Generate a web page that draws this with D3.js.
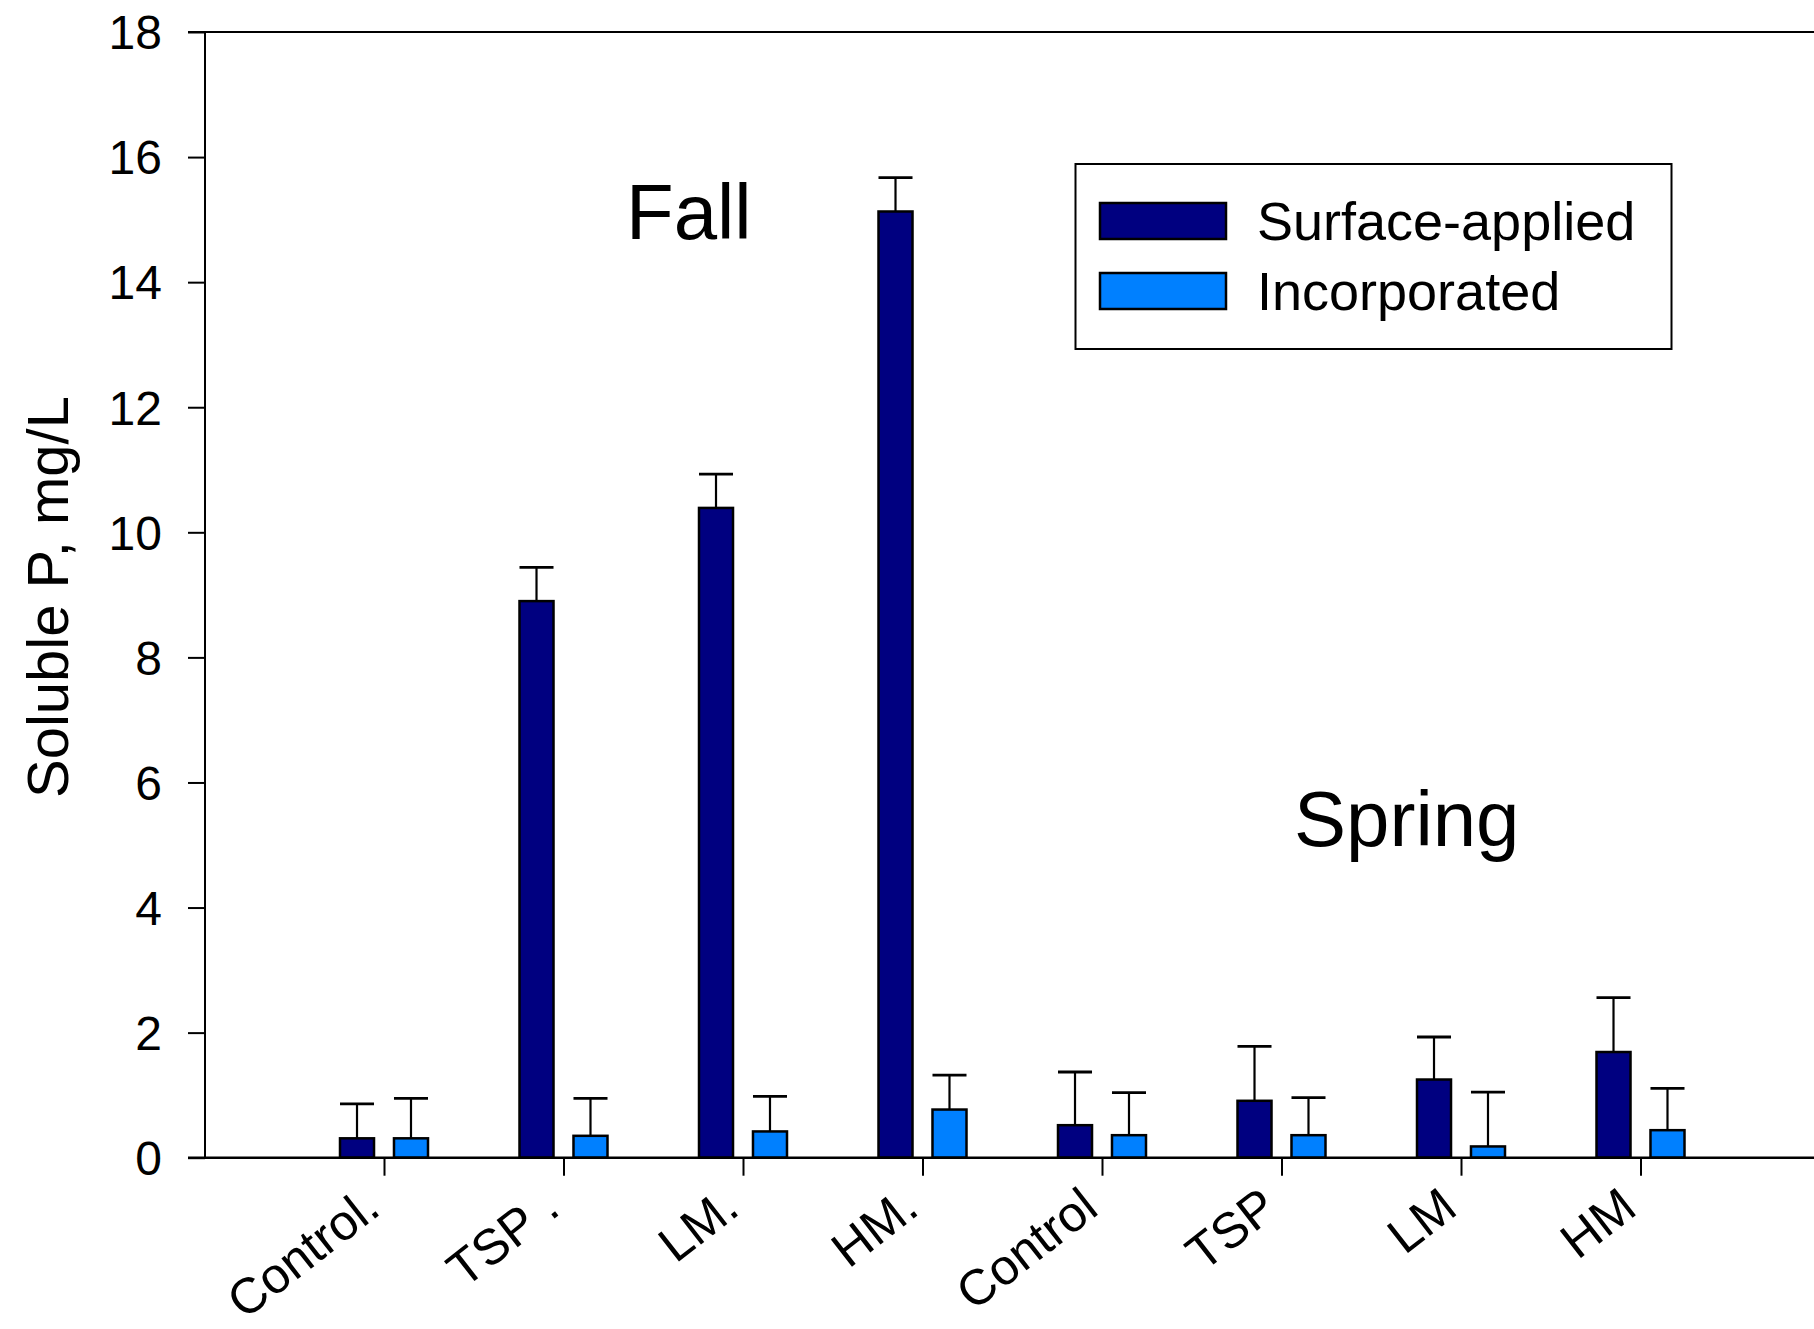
<!DOCTYPE html>
<html>
<head>
<meta charset="utf-8">
<script src="https://cdn.jsdelivr.net/npm/d3@7"></script>
<style>
  body { margin: 0; background: #fff; }
  svg { display: block; font-family: 'Liberation Sans', Arial, sans-serif; }
</style>
</head>
<body>
<div id="chart"></div>
<script>
const categories = ['Control.', 'TSP .', 'LM.', 'HM.', 'Control', 'TSP', 'LM', 'HM']
const series = ['Surface-applied', 'Incorporated']
const surface = [0.31, 8.9, 10.39, 15.13, 0.52, 0.91, 1.25, 1.69]
const surfaceErr = [0.55, 0.54, 0.54, 0.54, 0.85, 0.87, 0.68, 0.87]
const incorp = [0.31, 0.35, 0.42, 0.77, 0.36, 0.36, 0.18, 0.44]
const incorpErr = [0.64, 0.6, 0.56, 0.55, 0.68, 0.6, 0.87, 0.67]
const yTicks = [0, 2, 4, 6, 8, 10, 12, 14, 16, 18]
const seasons = [{ name: 'Fall', x: 626, y: 239 }, { name: 'Spring', x: 1294, y: 846 }]

const width = 1814
const height = 1329
const colors = ['#000080', '#0080ff']

const svg = d3
  .select('#chart')
  .append('svg')
  .attr('width', width)
  .attr('height', height)
  .attr('viewBox', [0, 0, width, height])

const y = d3.scaleLinear().domain([0, 18]).range([1157.7, 32])
const x = d3
  .scalePoint()
  .domain(d3.range(categories.length))
  .range([384, 384 + 7 * 179.5])
const xs = d3.scaleBand().domain([0, 1]).range([-44, 44]).paddingInner(0.37)

const rows = categories.map((c, i) => ({
  i,
  vals: [
    { s: 0, v: surface[i], e: surfaceErr[i] },
    { s: 1, v: incorp[i], e: incorpErr[i] },
  ],
}))

// frame lines
const x0 = 188
const axisX = 205
svg.append('line')
  .attr('x1', axisX).attr('x2', axisX)
  .attr('y1', y(18)).attr('y2', y(0))
  .attr('stroke', '#000').attr('stroke-width', 2)
svg.append('line')
  .attr('x1', x0).attr('x2', width)
  .attr('y1', y(18)).attr('y2', y(18))
  .attr('stroke', '#000').attr('stroke-width', 2)

// y axis
const yAxis = svg
  .append('g')
  .attr('transform', `translate(${axisX},0)`)
  .call(d3.axisLeft(y).tickValues(yTicks).tickSize(17).tickPadding(26))
yAxis.select('.domain').remove()
yAxis.selectAll('line').attr('stroke-width', 2)
yAxis.selectAll('text')
  .attr('font-size', 48)
  .attr('font-family', "'Liberation Sans', Arial, sans-serif")
  .attr('dy', '0.35em')

svg.append('text')
  .attr('transform', 'translate(68,597) rotate(-90)')
  .attr('text-anchor', 'middle')
  .attr('font-size', 58)
  .text('Soluble P, mg/L')

// bars
const groups = svg
  .selectAll('g.grp')
  .data(rows)
  .join('g')
  .attr('class', 'grp')
  .attr('transform', (d) => `translate(${x(d.i)},0)`)

groups
  .selectAll('rect')
  .data((d) => d.vals)
  .join('rect')
  .attr('x', (d) => xs(d.s))
  .attr('width', xs.bandwidth())
  .attr('y', (d) => y(d.v))
  .attr('height', (d) => y(0) - y(d.v))
  .attr('fill', (d) => colors[d.s])
  .attr('stroke', '#000')
  .attr('stroke-width', 2.5)

// error bars (upper only)
const err = groups
  .selectAll('g.err')
  .data((d) => d.vals)
  .join('g')
  .attr('class', 'err')
err.append('line')
  .attr('x1', (d) => xs(d.s) + xs.bandwidth() / 2)
  .attr('x2', (d) => xs(d.s) + xs.bandwidth() / 2)
  .attr('y1', (d) => y(d.v))
  .attr('y2', (d) => y(d.v + d.e))
  .attr('stroke', '#000')
  .attr('stroke-width', 2.2)
err.append('line')
  .attr('x1', (d) => xs(d.s))
  .attr('x2', (d) => xs(d.s) + xs.bandwidth())
  .attr('y1', (d) => y(d.v + d.e))
  .attr('y2', (d) => y(d.v + d.e))
  .attr('stroke', '#000')
  .attr('stroke-width', 2.8)

// x axis
svg.append('line')
  .attr('x1', x0).attr('x2', width)
  .attr('y1', y(0)).attr('y2', y(0))
  .attr('stroke', '#000').attr('stroke-width', 2.5)

const xAxis = svg
  .append('g')
  .attr('transform', `translate(0,${y(0)})`)
  .call(d3.axisBottom(x).tickSize(18).tickFormat((i) => categories[i]))
xAxis.select('.domain').remove()
xAxis.selectAll('line').attr('stroke-width', 2)
xAxis.selectAll('text')
  .attr('font-size', 50)
  .attr('font-family', "'Liberation Sans', Arial, sans-serif")
  .attr('text-anchor', 'end')
  .attr('x', 0)
  .attr('y', 0)
  .attr('dy', 0)
  .attr('transform', 'translate(-2,55) rotate(-38)')

// season labels
svg.selectAll('text.season')
  .data(seasons)
  .join('text')
  .attr('class', 'season')
  .attr('x', (d) => d.x)
  .attr('y', (d) => d.y)
  .attr('font-size', 78)
  .text((d) => d.name)

// legend
const legend = svg.append('g')
legend.append('rect')
  .attr('x', 1075.5).attr('y', 164)
  .attr('width', 596).attr('height', 185)
  .attr('fill', '#fff')
  .attr('stroke', '#000')
  .attr('stroke-width', 2)
const items = legend
  .selectAll('g.item')
  .data(series)
  .join('g')
  .attr('class', 'item')
  .attr('transform', (d, i) => `translate(0,${221 + i * 70})`)
items.append('rect')
  .attr('x', 1100).attr('y', -18)
  .attr('width', 126).attr('height', 36)
  .attr('fill', (d, i) => colors[i])
  .attr('stroke', '#000')
  .attr('stroke-width', 2.5)
items.append('text')
  .attr('x', 1257)
  .attr('y', 19)
  .attr('font-size', 54)
  .text((d) => d)
</script>
</body>
</html>
